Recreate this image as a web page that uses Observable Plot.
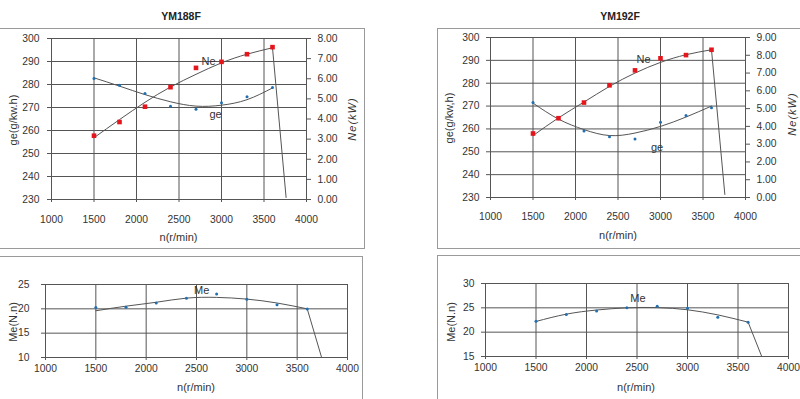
<!DOCTYPE html>
<html><head><meta charset="utf-8">
<script src="https://cdn.jsdelivr.net/npm/d3@7"></script>
<script src="https://cdn.jsdelivr.net/npm/@observablehq/plot@0.6"></script>
<style>
body{margin:0;background:#fff;}
#page{position:relative;width:800px;height:399px;overflow:hidden;font-family:"Liberation Sans",Arial,sans-serif;color:#333;background:#fff;}
.box{position:absolute;border:1px solid #9a9a9a;box-sizing:border-box;}
.panel{position:absolute;}
.t{position:absolute;transform:translate(-50%,-50%);white-space:nowrap;line-height:1;}
.title{font-weight:bold;font-size:10.5px;color:#222;}
.lab{font-size:11px;color:#333;}
.rot{transform:translate(-50%,-50%) rotate(-90deg);}
.ne{font-style:italic;letter-spacing:1px;}
</style></head><body><div id="page"></div>
<script>
// ---- data ----
const rpm = [1500, 1800, 2100, 2400, 2700, 3000, 3300, 3600];
const xTicks = [1000, 1500, 2000, 2500, 3000, 3500, 4000];
const geTicks = [230, 240, 250, 260, 270, 280, 290, 300];

// YM188F
const ge188 = [282.6, 279.7, 276.1, 270.5, 269.2, 272.1, 274.7, 278.7];
const ne188 = [3.17, 3.85, 4.61, 5.58, 6.54, 6.84, 7.22, 7.57];
const geFit188 = [282.9, 279.3, 275.6, 272.5, 270.6, 271.0, 273.4, 278.5];
const neFit188 = [3.07, 3.97, 4.83, 5.59, 6.22, 6.79, 7.22, 7.54];
const neDropRpm188 = [3600, 3760];
const neDrop188 = [7.54, 0.1];
const neTicks188 = [0, 1, 2, 3, 4, 5, 6, 7, 8];

// YM192F
const ge192 = [271.6, 264.5, 259.1, 256.6, 255.6, 262.9, 265.9, 269.3];
const ne192 = [3.60, 4.46, 5.34, 6.31, 7.15, 7.83, 8.01, 8.31];
const geFit192 = [271.3, 264.3, 259.7, 257.1, 258.2, 261.1, 265.2, 270.0];
const neFit192 = [3.48, 4.48, 5.37, 6.25, 7.00, 7.60, 8.03, 8.31];
const neDropRpm192 = [3600, 3757];
const neDrop192 = [8.31, 0.17];
const neTicks192 = [0, 1, 2, 3, 4, 5, 6, 7, 8, 9];

// Torque Me
const me188 = [20.25, 20.32, 21.2, 22.2, 23.03, 21.95, 20.86, 19.98];
const meFit188 = [19.6, 20.55, 21.35, 22.2, 22.35, 22.0, 21.2, 20.0];
const meDropRpm188 = [3600, 3743];
const meDrop188 = [20.0, 10];
const meTicks188 = [10, 15, 20, 25];

const me192 = [22.26, 23.62, 24.36, 25.04, 25.32, 24.91, 23.08, 22.06];
const meFit192 = [22.2, 23.7, 24.55, 25.0, 25.05, 24.6, 23.55, 22.06];
const meDropRpm192 = [3600, 3735];
const meDrop192 = [22.06, 15];
const meTicks192 = [15, 20, 25, 30];

// ---- drawing ----
const page = document.getElementById("page");
const GRID = "#555", CURVE = "#555", RED = "#e5151c", BLUE = "#1f6fb2";
const FONT = "'Liberation Sans', Arial, sans-serif";

function addBox(l, t, w, h) {
  const d = document.createElement("div");
  d.className = "box";
  Object.assign(d.style, {left: l + "px", top: t + "px", width: w + "px", height: h + "px"});
  page.appendChild(d);
}
function addText(txt, cls, x, y) {
  const d = document.createElement("div");
  d.className = "t " + cls;
  d.textContent = txt;
  Object.assign(d.style, {left: x + "px", top: y + "px"});
  page.appendChild(d);
}
function place(svg, l, t) {
  const w = document.createElement("div");
  w.className = "panel";
  Object.assign(w.style, {left: l + "px", top: t + "px"});
  w.appendChild(svg);
  page.appendChild(w);
}

function powerPanel(o) {
  const yMin = o.geTicks[0], yMax = o.geTicks[o.geTicks.length - 1];
  const k = (yMax - yMin) / o.neTicks[o.neTicks.length - 1];
  const toGe = n => yMin + n * k;
  const neGe = o.ne.map(toGe);
  const svg = Plot.plot({
    width: o.width, height: o.height,
    marginLeft: o.m[0], marginRight: o.m[1], marginTop: o.m[2], marginBottom: o.m[3],
    x: {domain: [1000, 4000]},
    y: {domain: [yMin, yMax]},
    style: {fontSize: "10.3px", fontFamily: FONT, color: "#333", background: "transparent"},
    marks: [
      Plot.gridX(xTicks, {stroke: GRID, strokeOpacity: 1}),
      Plot.gridY(o.geTicks, {stroke: GRID, strokeOpacity: 1}),
      Plot.axisX(xTicks, {tickSize: 3, tickPadding: o.xPad, tickFormat: d => String(d), label: null, stroke: GRID}),
      Plot.axisY(o.geTicks, {anchor: "left", tickSize: 4, tickPadding: o.yPad, tickFormat: d => String(d), label: null, stroke: GRID}),
      Plot.axisY(o.neTicks.map(toGe), {anchor: "right", tickSize: 4, tickPadding: 7,
        tickFormat: v => ((v - yMin) / k).toFixed(2), label: null, stroke: GRID}),
      Plot.line(o.geFit, {x: rpm, y: o.geFit, curve: "natural", stroke: CURVE, strokeWidth: 1}),
      Plot.line(o.neFit, {x: rpm, y: o.neFit.map(toGe), curve: "natural", stroke: CURVE, strokeWidth: 1}),
      Plot.line(o.neDrop, {x: o.neDropRpm, y: o.neDrop.map(toGe), stroke: CURVE, strokeWidth: 1}),
      Plot.dot(o.ge, {x: rpm, y: o.ge, r: 1.5, fill: BLUE, stroke: null}),
      Plot.dot(o.ne, {x: rpm, y: neGe, r: 2.6, symbol: "square", fill: RED, stroke: null}),
      Plot.text(["Ne"], {x: [rpm[o.neLab.i]], y: [neGe[o.neLab.i]], dx: o.neLab.dx, dy: o.neLab.dy, fontSize: 11, fill: "#333"}),
      Plot.text(["ge"], {x: [rpm[o.geLab.i]], y: [o.ge[o.geLab.i]], dx: o.geLab.dx, dy: o.geLab.dy, fontSize: 11, fill: "#333"})
    ]
  });
  place(svg, o.left, o.top);
}

function torquePanel(o) {
  const svg = Plot.plot({
    width: o.width, height: o.height,
    marginLeft: o.m[0], marginRight: o.m[1], marginTop: o.m[2], marginBottom: o.m[3],
    x: {domain: [1000, 4000]},
    y: {domain: [o.ticks[0], o.ticks[o.ticks.length - 1]]},
    style: {fontSize: "10.3px", fontFamily: FONT, color: "#333", background: "transparent"},
    marks: [
      Plot.gridX(xTicks, {stroke: GRID, strokeOpacity: 1}),
      Plot.gridY(o.ticks, {stroke: GRID, strokeOpacity: 1}),
      Plot.axisX(xTicks, {tickSize: 3, tickPadding: 4, tickFormat: d => String(d), label: null, stroke: GRID}),
      Plot.axisY(o.ticks, {anchor: "left", tickSize: 4, tickPadding: o.yPad, tickFormat: d => String(d), label: null, stroke: GRID}),
      Plot.line(o.fit, {x: rpm, y: o.fit, curve: "natural", stroke: CURVE, strokeWidth: 1}),
      Plot.line(o.drop, {x: o.dropRpm, y: o.drop, stroke: CURVE, strokeWidth: 1}),
      Plot.dot(o.me, {x: rpm, y: o.me, r: 1.5, fill: BLUE, stroke: null}),
      Plot.text(["Me"], {x: [rpm[o.lab.i]], y: [o.me[o.lab.i]], dx: o.lab.dx, dy: o.lab.dy, fontSize: 11, fill: "#333"})
    ]
  });
  place(svg, o.left, o.top);
}

// frames
addBox(-1, 27.5, 366, 221);
addBox(437, 27.5, 400, 221);
addBox(-1, 255.5, 364, 160);
addBox(437, 254.5, 400, 160);

powerPanel({left: 0, top: 28, width: 365, height: 220, m: [51, 59, 10, 49], xPad: 13, yPad: 8,
  geTicks, neTicks: neTicks188, ge: ge188, ne: ne188, geFit: geFit188, neFit: neFit188,
  neDropRpm: neDropRpm188, neDrop: neDrop188,
  neLab: {i: 5, dx: -13, dy: 0}, geLab: {i: 5, dx: -6, dy: 12}});

powerPanel({left: 437, top: 28, width: 363, height: 220, m: [53, 55, 9, 51], xPad: 12, yPad: 7,
  geTicks, neTicks: neTicks192, ge: ge192, ne: ne192, geFit: geFit192, neFit: neFit192,
  neDropRpm: neDropRpm192, neDrop: neDrop192,
  neLab: {i: 5, dx: -17, dy: 1}, geLab: {i: 4, dx: 22, dy: 8}});

torquePanel({left: 0, top: 256, width: 363, height: 143, m: [45, 16, 28, 42], yPad: 12,
  ticks: meTicks188, me: me188, fit: meFit188, dropRpm: meDropRpm188, drop: meDrop188,
  lab: {i: 4, dx: -15, dy: -4}});

torquePanel({left: 437, top: 255, width: 363, height: 144, m: [48, 12, 28, 43], yPad: 7,
  ticks: meTicks192, me: me192, fit: meFit192, dropRpm: meDropRpm192, drop: meDrop192,
  lab: {i: 3, dx: 11, dy: -9}});

// titles and axis labels
addText("YM188F", "title", 181, 15.5);
addText("YM192F", "title", 620, 15.5);
addText("ge(g/kw.h)", "lab rot", 12.5, 120);
addText("ge(g/kw,h)", "lab rot", 449, 118);
addText("Ne(kW)", "lab rot ne", 352, 119);
addText("Ne(kW)", "lab rot ne", 791.5, 114);
addText("n(r/min)", "lab", 178.5, 236.5);
addText("n(r/min)", "lab", 618, 234.5);
addText("Me(N.n)", "lab rot", 12.5, 321.5);
addText("Me(N.n)", "lab rot", 450.5, 321.5);
addText("n(r/min)", "lab", 196, 386.5);
addText("n(r/min)", "lab", 636, 386.5);
</script>
</body></html>
